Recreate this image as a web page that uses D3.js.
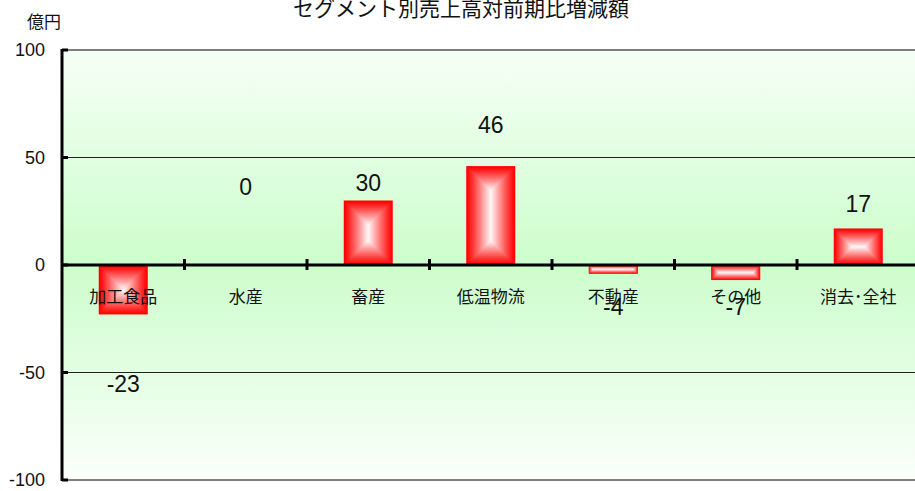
<!DOCTYPE html>
<html>
<head>
<meta charset="utf-8">
<script src="https://cdn.jsdelivr.net/npm/d3@7"></script>
<style>
  html, body { margin: 0; padding: 0; background: #fff; }
  svg { display: block; }
  text { font-family: "Liberation Sans", Arial, "Noto Sans CJK JP", sans-serif; fill: #111; }
  .jp { font-family: "Noto Sans CJK JP", sans-serif; }
</style>
</head>
<body>
<svg id="chart" width="915" height="491"></svg>
<script>
// Segment sales year-on-year change (億円)
const categories = ["加工食品", "水産", "畜産", "低温物流", "不動産", "その他", "消去･全社"];
const changes = [-23, 0, 30, 46, -4, -7, 17];
const yTicks = [-100, -50, 0, 50, 100];
const title = "セグメント別売上高対前期比増減額";
const unitLabel = "億円";

const svg = d3.select("#chart");
const plotLeft = 62, plotTop = 50, plotBottom = 480;
const plotRight = 919.5;
const fmt = d => (d < 0 ? "-" : "") + Math.abs(d);

const x = d3.scaleBand().domain(categories).range([plotLeft, plotRight]).paddingInner(0.6).paddingOuter(0.3);
const y = d3.scaleLinear().domain([-100, 100]).range([plotBottom, plotTop]);

const defs = svg.append("defs");
const bg = defs.append("linearGradient").attr("id", "bg").attr("x1", 0).attr("y1", 0).attr("x2", 0).attr("y2", 1);
bg.append("stop").attr("offset", "0%").attr("stop-color", "#f6fff6");
bg.append("stop").attr("offset", "50%").attr("stop-color", "#ccfdcc");
bg.append("stop").attr("offset", "100%").attr("stop-color", "#fbfffb");

// plot background
svg.append("rect")
  .attr("x", plotLeft).attr("y", y(100))
  .attr("width", plotRight - plotLeft).attr("height", y(-100) - y(100))
  .attr("fill", "url(#bg)");

// horizontal gridlines
svg.append("g").selectAll("line")
  .data(yTicks.filter(d => d !== 0))
  .join("line")
  .attr("x1", plotLeft).attr("x2", plotRight)
  .attr("y1", d => y(d)).attr("y2", d => y(d))
  .attr("stroke", d => Math.abs(d) === 100 ? "#555" : "#222")
  .attr("stroke-width", d => Math.abs(d) === 100 ? 1.5 : 1);

// bars with a rectangular "from centre" gradient built from nested rects
const red = d3.color("#ff0000"), white = d3.color("#ffffff");
const steps = 24;
const barG = svg.append("g");
categories.forEach((c, i) => {
  const v = changes[i];
  if (v === 0) return;
  const bx = x(c), bw = x.bandwidth();
  const y0 = y(Math.max(0, v)), y1 = y(Math.min(0, v));
  const bh = y1 - y0;
  const half = Math.min(bw, bh) / 2;
  const g = barG.append("g");
  d3.range(steps).forEach(k => {
    const t = k / steps;
    const inset = half * t;
    const col = d3.interpolateRgb(red, white)(Math.pow(t, 1.1));
    g.append("rect")
      .attr("x", bx + inset).attr("y", y0 + inset)
      .attr("width", Math.max(0.5, bw - 2 * inset))
      .attr("height", Math.max(0.5, bh - 2 * inset))
      .attr("fill", col);
  });
});

// zero line with category separators
svg.append("line")
  .attr("x1", plotLeft).attr("x2", plotRight)
  .attr("y1", y(0)).attr("y2", y(0))
  .attr("stroke", "#000").attr("stroke-width", 3);
const step = x.step();
svg.append("g").selectAll("line")
  .data(d3.range(1, categories.length))
  .join("line")
  .attr("x1", d => plotLeft + d * step).attr("x2", d => plotLeft + d * step)
  .attr("y1", y(0) - 6).attr("y2", y(0) + 5)
  .attr("stroke", "#000").attr("stroke-width", 3);

// y axis
const yAxis = d3.axisLeft(y).tickValues(yTicks).tickSize(0).tickPadding(17).tickFormat(fmt);
const ya = svg.append("g").attr("transform", `translate(${plotLeft},0)`).call(yAxis);
ya.select(".domain").remove();
ya.selectAll("text").style("font-size", "18px").style("font-family", "Liberation Sans, Arial, sans-serif").attr("fill", "#111");
svg.append("line").attr("x1", plotLeft).attr("x2", plotLeft).attr("y1", y(100) - 1).attr("y2", y(-100) + 1)
  .attr("stroke", "#000").attr("stroke-width", 3);
svg.append("g").selectAll("line").data(yTicks).join("line")
  .attr("x1", plotLeft).attr("x2", plotLeft + 6)
  .attr("y1", d => y(d)).attr("y2", d => y(d))
  .attr("stroke", "#000").attr("stroke-width", 3);

// category labels
svg.append("g").selectAll("text")
  .data(categories)
  .join("text")
  .attr("class", "jp")
  .attr("x", d => x(d) + x.bandwidth() / 2)
  .attr("y", y(0) + 30)
  .attr("text-anchor", "middle")
  .attr("dominant-baseline", "central")
  .style("font-size", "17px")
  .text(d => d);

// value labels (pixel offsets from each bar end)
const labelGap = [70, -78, -18, -41, 33, 27, -24];
svg.append("g").selectAll("text")
  .data(changes)
  .join("text")
  .attr("x", (d, i) => x(categories[i]) + x.bandwidth() / 2)
  .attr("y", (d, i) => y(d) + labelGap[i])
  .attr("text-anchor", "middle")
  .attr("dominant-baseline", "central")
  .style("font-size", "23px")
  .text(fmt);

// title and unit
svg.append("text").attr("class", "jp")
  .attr("x", 461).attr("y", 7)
  .attr("text-anchor", "middle").attr("dominant-baseline", "central")
  .style("font-size", "21px")
  .text(title);
svg.append("text").attr("class", "jp")
  .attr("x", 44).attr("y", 20)
  .attr("text-anchor", "middle").attr("dominant-baseline", "central")
  .style("font-size", "17px")
  .text(unitLabel);
</script>
</body>
</html>
